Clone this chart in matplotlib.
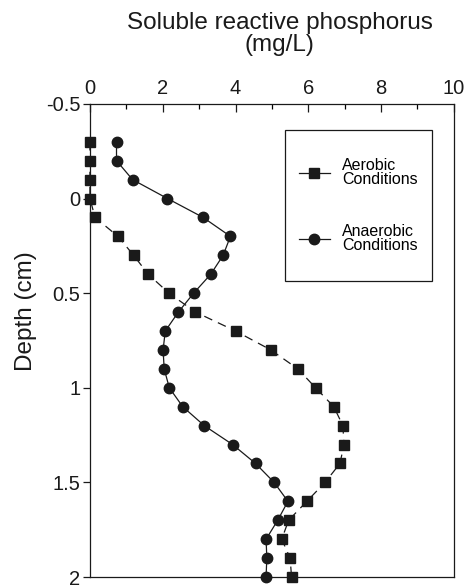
"""Soluble reactive phosphorus profile against sediment depth."""

import matplotlib
matplotlib.use('Agg')
import matplotlib.pyplot as plt
from matplotlib.lines import Line2D
from matplotlib.patches import Rectangle
from matplotlib.ticker import MultipleLocator

plt.rcParams['font.family'] = ['Liberation Sans', 'DejaVu Sans']

# depth (cm), one reading every 0.1 cm
depth = [-0.3, -0.2, -0.1, 0.0, 0.1, 0.2, 0.3, 0.4, 0.5, 0.6, 0.7, 0.8,
         0.9, 1.0, 1.1, 1.2, 1.3, 1.4, 1.5, 1.6, 1.7, 1.8, 1.9, 2.0]

# SRP (mg/L)
aerobic = [0.0, 0.0, 0.0, 0.0, 0.14, 0.77, 1.2, 1.6, 2.17, 2.9, 4.0, 4.97,
           5.71, 6.2, 6.7, 6.95, 6.98, 6.87, 6.46, 5.96, 5.46, 5.27, 5.5, 5.54]
anaerobic = [0.73, 0.73, 1.17, 2.13, 3.11, 3.86, 3.66, 3.32, 2.85, 2.43, 2.07, 2.01,
             2.04, 2.18, 2.55, 3.14, 3.92, 4.55, 5.06, 5.44, 5.16, 4.84, 4.86, 4.84]

x_ticks = [0, 2, 4, 6, 8, 10]
y_ticks = [-0.5, 0, 0.5, 1, 1.5, 2]
y_tick_labels = ['-0.5', '0', '0.5', '1', '1.5', '2']

ink = '#1a1a1a'

fig = plt.figure(figsize=(4.66, 5.87), dpi=100)
ax = fig.add_axes([0.193, 0.017, 0.781, 0.806])

ax.plot(aerobic, depth, color=ink, lw=0.9, dashes=(7, 5),
        marker='s', ms=7, mfc=ink, mec=ink, clip_on=False, zorder=3)
ax.plot(anaerobic, depth, color=ink, lw=0.9,
        marker='o', ms=7.5, mfc=ink, mec=ink, clip_on=False, zorder=3)

ax.set_xlim(0, 10)
ax.set_ylim(2, -0.5)  # depth increases downward

ax.xaxis.tick_top()
ax.xaxis.set_label_position('top')
ax.set_xticks(x_ticks)
ax.set_xticklabels([str(t) for t in x_ticks])
ax.xaxis.set_minor_locator(MultipleLocator(1))
ax.tick_params(axis='x', which='major', direction='in', length=6, width=0.9,
               labelsize=14.5, pad=4, colors=ink)
ax.tick_params(axis='x', which='minor', direction='in', length=3.5, width=0.9)

ax.set_yticks(y_ticks)
ax.set_yticklabels(y_tick_labels)
ax.tick_params(axis='y', which='major', direction='out', length=5, width=0.9,
               labelsize=14.5, pad=2, colors=ink)

for sp in ax.spines.values():
    sp.set_linewidth(0.9)
    sp.set_color(ink)

ax.set_xlabel('Soluble reactive phosphorus\n(mg/L)', fontsize=17.5,
              color=ink, linespacing=1.0)
ax.xaxis.set_label_coords(0.522, 1.112)
ax.set_ylabel('Depth (cm)', fontsize=17.5, color=ink)
ax.yaxis.set_label_coords(-0.146, 0.562)

# legend box drawn separately so its padding can be set freely
ax.add_patch(Rectangle((0.536, 0.626), 0.404, 0.319, transform=ax.transAxes,
                       fill=False, edgecolor=ink, lw=0.9, zorder=4))

# legend handles drawn with solid lines, as in the original
handles = [Line2D([], [], color=ink, lw=0.9, marker='s', ms=7),
           Line2D([], [], color=ink, lw=0.9, marker='o', ms=7.5)]
leg = ax.legend(handles, ['Aerobic\nConditions', 'Anaerobic\nConditions'],
                loc='center', bbox_to_anchor=(0.738, 0.7855),
                fontsize=11.5, frameon=False, handlelength=1.9, labelspacing=2.3,
                borderpad=0, handletextpad=0.8, borderaxespad=0)
for t in leg.get_texts():
    t.set_linespacing(0.95)

fig.savefig('out.png', dpi=100)
